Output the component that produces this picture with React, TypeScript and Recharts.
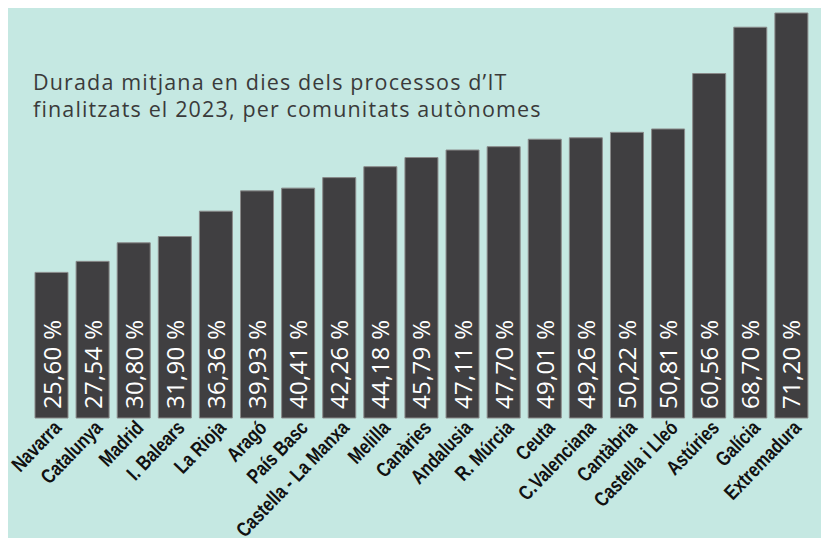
import React from "react";
import { BarChart, Bar, XAxis, YAxis, LabelList } from "recharts";

const regions = [
  "Navarra", "Catalunya", "Madrid", "I. Balears", "La Rioja", "Aragó", "País Basc",
  "Castella - La Manxa", "Melilla", "Canàries", "Andalusia", "R. Múrcia", "Ceuta",
  "C.Valenciana", "Cantàbria", "Castella i Lleó", "Astúries", "Galícia", "Extremadura",
];
const values = [
  25.6, 27.54, 30.8, 31.9, 36.36, 39.93, 40.41, 42.26, 44.18, 45.79, 47.11, 47.7,
  49.01, 49.26, 50.22, 50.81, 60.56, 68.7, 71.2,
];
const titleLines = [
  "Durada mitjana en dies dels processos d\u2019IT",
  "finalitzats el 2023, per comunitats autònomes",
];

const data = regions.map((name, i) => ({ name, value: values[i] }));

const fmt = (v: number) => v.toFixed(2).replace(".", ",") + " %";

const CategoryTick = (props: any) => {
  const { x, y, payload } = props;
  return (
    <g transform={`translate(${x + 11},${y + 3}) rotate(-46) scale(0.8,1)`}>
      <text
        x={0}
        y={0}
        textAnchor="end"
        fill="#111"
        fontSize={20.5}
        fontFamily="'Liberation Sans', Arial, sans-serif"
        fontWeight="bold"
      >
        {payload.value}
      </text>
    </g>
  );
};

const ValueLabel = (props: any) => {
  const { x, y, width, height, value } = props;
  const cx = x + width / 2;
  const by = y + height - 9;
  return (
    <text
      transform={`translate(${cx + 9},${by}) rotate(-90)`}
      textAnchor="start"
      fill="#ffffff"
      fontSize={24}
      fontFamily="'Open Sans', sans-serif"
      fontWeight={400}
      letterSpacing={0.3}
    >
      {fmt(value)}
    </text>
  );
};

export default function App() {
  return (
    <div style={{ position: "relative", width: 821, height: 533, marginTop: -3, background: "#c5e8e2" }}>
      <BarChart
        width={821}
        height={533}
        data={data}
        margin={{ top: 8, right: 17, left: 23, bottom: 0 }}
        barSize={33}
      >
        <XAxis
          dataKey="name"
          interval={0}
          tick={<CategoryTick />}
          tickLine={false}
          axisLine={false}
          height={120}
        />
        <YAxis hide domain={[0, 71.2]} />
        <Bar dataKey="value" fill="#403f41" stroke="#8a8a8a" strokeWidth={1} isAnimationActive={false}>
          <LabelList dataKey="value" content={<ValueLabel />} />
        </Bar>
      </BarChart>
      <div
        style={{
          position: "absolute",
          left: 25,
          top: 63,
          fontFamily: "'Open Sans', sans-serif",
          fontSize: 21.5,
          lineHeight: "27px",
          letterSpacing: 1.15,
          color: "#3a3a3a",
          fontWeight: 400,
          whiteSpace: "nowrap",
        }}
      >
        {titleLines.map((t, i) => (
          <div key={i}>{t}</div>
        ))}
      </div>
    </div>
  );
}
